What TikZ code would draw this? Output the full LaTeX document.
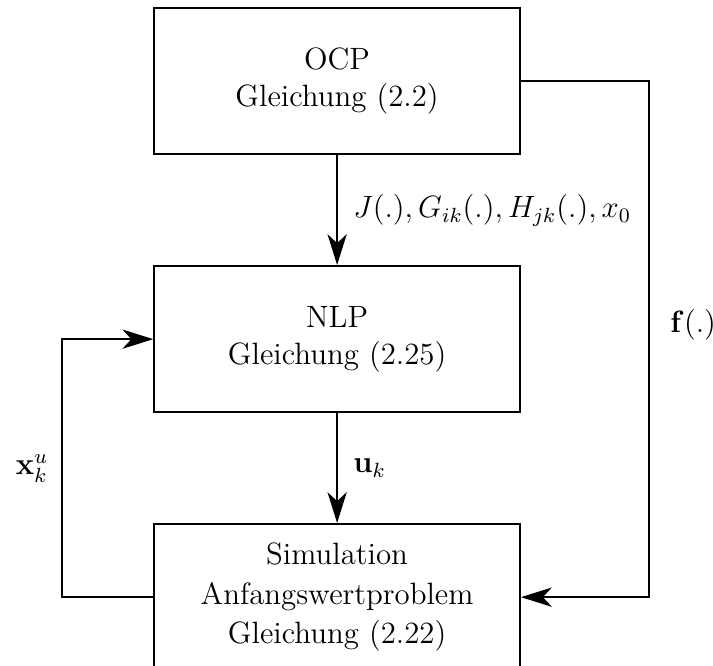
\documentclass[tikz,border=0pt,12pt]{standalone}
\usetikzlibrary{positioning,arrows.meta}

\tikzset{
	block/.style={draw, thick, minimum width=5cm, minimum height=2cm, align=center},
	flow/.style={semithick, -{Stealth[length=12pt,width=7.5pt,inset=3.5pt]}}
}

\begin{document}
\begin{tikzpicture}
		\useasboundingbox (-4.61,-4.495) rectangle (5.14,4.61);
		\node[block] (ocp) at (0,3.5) {OCP\\Gleichung (2.2)};
		\node[block, below=1.5cm of ocp] (nlp) {NLP\\Gleichung (2.25)};
		\node[block, below=1.5cm of nlp] (sim) {Simulation\\[1pt]Anfangswertproblem\\[1pt]Gleichung (2.22)};
		% \node[block, right=2cm of nlp] (ode) {};
		\draw[flow] (ocp) -- node[right=2pt] {$J(.), G_{ik}(.), H_{jk}(.), x_0$} (nlp);
		\draw[flow] (nlp) -- node[right=2pt] {$\mathbf{u}_k$} (sim);
		\draw[flow] (ocp.east) -- ++(1.75,0) |- node[pos=0.25, right=4pt, yshift=2mm] {$\mathbf{f}(.)$} (sim.east);
		\draw[flow] (sim.west) -- ++(-1.25,0) |- node[pos=0.25, left=1pt] {$\mathbf{x}_k^u$} (nlp.west);
		% \draw[flow] (sim.south) -- ++(0,-1) -| (ode);
\end{tikzpicture}
\end{document}
